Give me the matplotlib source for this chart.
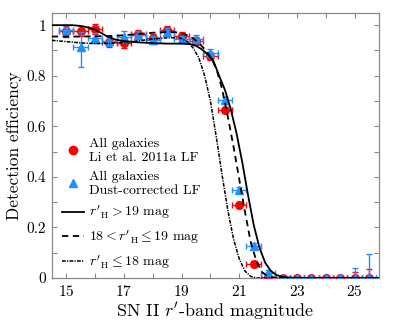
import numpy as np
import matplotlib
matplotlib.use("Agg")
import matplotlib.pyplot as plt
from matplotlib.ticker import MultipleLocator, FuncFormatter
from matplotlib.lines import Line2D

plt.rcParams['font.family'] = ['cmr10', 'DejaVu Serif']
plt.rcParams['mathtext.fontset'] = 'cm'
plt.rcParams['axes.formatter.use_mathtext'] = True

# ---- data ----
mags = [15.0, 15.5, 16.0, 16.5, 17.0, 17.5, 18.0, 18.5, 19.0, 19.5, 20.0,
        20.5, 21.0, 21.5, 22.0, 22.5, 23.0, 23.5, 24.0, 24.5, 25.0, 25.5]
red_eff = [0.975, 0.978, 0.985, 0.932, 0.928, 0.964, 0.950, 0.980, 0.958, 0.937, 0.877,
           0.665, 0.287, 0.056, 0.002, 0.0, 0.0, 0.0, 0.0, 0.0, 0.0, 0.0]
red_err_lo = [0.02, 0.02, 0.02, 0.02, 0.02, 0.015, 0.015, 0.015, 0.015, 0.015, 0.015,
              0.012, 0.012, 0.012, 0.002, 0.0, 0.0, 0.0, 0.0, 0.0, 0.0, 0.0]
red_err_hi = [0.02, 0.02, 0.02, 0.02, 0.02, 0.015, 0.015, 0.015, 0.015, 0.015, 0.015,
              0.012, 0.012, 0.012, 0.006, 0.004, 0.004, 0.004, 0.004, 0.008, 0.024, 0.036]
blue_eff = [0.980, 0.912, 0.950, 0.937, 0.955, 0.962, 0.942, 0.972, 0.944, 0.945, 0.891,
            0.704, 0.347, 0.127, 0.021, 0.0, 0.0, 0.0, 0.0, 0.0, 0.0, 0.0]
blue_err_lo = [0.02, 0.077, 0.02, 0.02, 0.02, 0.015, 0.015, 0.015, 0.015, 0.015, 0.015,
               0.012, 0.012, 0.012, 0.012, 0.0, 0.0, 0.0, 0.0, 0.0, 0.0, 0.0]
blue_err_hi = [0.02, 0.06, 0.02, 0.02, 0.02, 0.015, 0.015, 0.015, 0.015, 0.015, 0.015,
               0.012, 0.012, 0.012, 0.012, 0.004, 0.004, 0.004, 0.004, 0.012, 0.041, 0.095]
bin_halfwidth = 0.25

curve_gt19_x = [14.5, 15.0, 15.2, 15.5, 15.8, 16.0, 16.2, 16.4, 16.7, 17.0, 17.5, 18.0,
                18.5, 19.0, 19.3, 19.5, 19.7, 19.9, 20.1, 20.3, 20.5, 20.7, 20.9, 21.1,
                21.3, 21.5, 21.7, 21.9, 22.1, 22.3, 22.5, 22.8, 23.2, 26.0]
curve_gt19_y = [1.0, 1.0, 1.0, 0.997, 0.99, 0.982, 0.97, 0.957, 0.943, 0.937, 0.932, 0.929,
                0.927, 0.927, 0.925, 0.918, 0.905, 0.885, 0.86, 0.80, 0.745, 0.67, 0.575, 0.46,
                0.33, 0.21, 0.12, 0.06, 0.027, 0.011, 0.004, 0.001, 0.0, 0.0]
curve_mid_x = [14.5, 15.5, 16.5, 17.0, 17.5, 18.0, 18.5, 18.8, 19.1, 19.4, 19.6, 19.8,
               20.0, 20.2, 20.4, 20.6, 20.8, 21.0, 21.2, 21.4, 21.6, 21.8, 22.0, 22.3, 26.0]
curve_mid_y = [0.955, 0.955, 0.957, 0.96, 0.965, 0.97, 0.973, 0.972, 0.965, 0.948, 0.93, 0.905,
               0.875, 0.83, 0.75, 0.64, 0.52, 0.39, 0.26, 0.14, 0.065, 0.022, 0.006, 0.0, 0.0]
curve_le18_x = [14.5, 15.0, 15.5, 16.0, 16.5, 17.0, 17.5, 18.0, 18.5, 18.8, 19.0, 19.2,
                19.4, 19.6, 19.8, 20.0, 20.2, 20.4, 20.6, 20.8, 21.0, 21.2, 21.4, 21.6, 26.0]
curve_le18_y = [0.94, 0.935, 0.93, 0.927, 0.928, 0.932, 0.938, 0.945, 0.95, 0.95, 0.947, 0.935,
                0.91, 0.87, 0.80, 0.70, 0.56, 0.41, 0.27, 0.155, 0.075, 0.027, 0.006, 0.0, 0.0]

xticks_labeled = [15, 17, 19, 21, 23, 25]
labels = ['All galaxies\nLi et al. 2011a LF', 'All galaxies\nDust-corrected LF',
          r"$r'_{\rm H} > 19$ mag", r"$18 < r'_{\rm H} \leq 19$ mag", r"$r'_{\rm H} \leq 18$ mag"]

RED = '#ff0000'
BLUE = '#1e90ff'
LS_MID = (0, (3.5, 2.5))
LS_LE18 = (0, (2.5, 0.8, 0.8, 0.8))

fig = plt.figure(figsize=(3.95, 3.21), dpi=100)
ax = fig.add_axes([0.131, 0.134, 0.829, 0.827])

ax.errorbar(mags, red_eff, yerr=[red_err_lo, red_err_hi], xerr=bin_halfwidth,
            fmt='o', color=RED, ms=5.5, mec=RED, mfc=RED, elinewidth=1.0, capsize=2.5,
            capthick=1.0, zorder=3)
ax.errorbar(mags, blue_eff, yerr=[blue_err_lo, blue_err_hi], xerr=bin_halfwidth,
            fmt='^', color=BLUE, ms=5.5, mec=BLUE, mfc=BLUE, elinewidth=1.0, capsize=2.5,
            capthick=1.0, zorder=4)

ax.plot(curve_gt19_x, curve_gt19_y, '-', color='black', lw=1.3, zorder=5)
ax.plot(curve_mid_x, curve_mid_y, color='black', lw=1.3, ls=LS_MID, zorder=5)
ax.plot(curve_le18_x, curve_le18_y, color='black', lw=1.1, ls=LS_LE18, zorder=5)

ax.set_xlim(14.5, 25.85)
ax.set_ylim(0, 1.05)
ax.set_xticks(xticks_labeled)
ax.xaxis.set_minor_locator(MultipleLocator(1))
ax.yaxis.set_major_locator(MultipleLocator(0.2))
ax.yaxis.set_minor_locator(MultipleLocator(0.1))
ax.yaxis.set_major_formatter(FuncFormatter(lambda v, p: '%g' % round(v, 2)))
ax.tick_params(which='both', direction='in', top=True, right=True, length=3.5,
               width=0.8, color='#888888', labelsize=11, pad=4)
for s in ax.spines.values():
    s.set_color('#888888')
    s.set_linewidth(0.9)

ax.set_xlabel(r"SN II $r'$-band magnitude", fontsize=13, labelpad=1)
ax.set_ylabel("Detection efficiency", fontsize=12.5, labelpad=3)

handles = [
    Line2D([], [], marker='o', ls='none', color=RED, ms=6),
    Line2D([], [], marker='^', ls='none', color=BLUE, ms=6),
    Line2D([], [], color='black', lw=1.3),
    Line2D([], [], color='black', lw=1.3, ls=LS_MID),
    Line2D([], [], color='black', lw=1.1, ls=LS_LE18),
]
ax.legend(handles, labels, loc='lower left', bbox_to_anchor=(0.015, 0.005), frameon=False,
          fontsize=10, handlelength=1.6, handletextpad=0.3, labelspacing=0.5,
          borderaxespad=0.0, numpoints=1)

fig.savefig('out.png', dpi=100)
